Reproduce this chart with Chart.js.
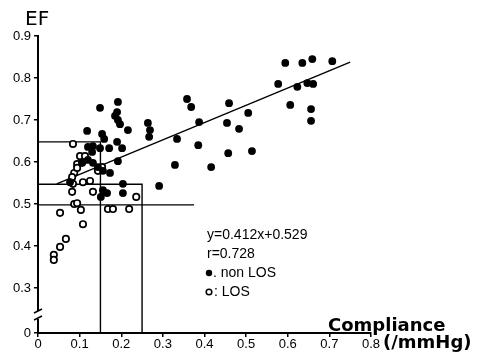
<!DOCTYPE html>
<html>
<head>
<meta charset="utf-8">
<script src="https://cdn.jsdelivr.net/npm/chart.js@4.4.1/dist/chart.umd.min.js"></script>
<style>
  html, body { margin: 0; padding: 0; background: #fff; }
  #wrap { width: 477px; height: 364px; }
</style>
</head>
<body>
<div id="wrap"><canvas id="efChart" width="477" height="364"></canvas></div>
<script>
// values
const nonLosPoints = [
  [0.594,0.836],[0.635,0.836],[0.659,0.845],[0.707,0.840],
  [0.577,0.786],[0.623,0.779],[0.647,0.788],[0.661,0.786],
  [0.606,0.736],[0.656,0.726],[0.656,0.698],
  [0.358,0.750],[0.368,0.731],[0.459,0.740],[0.505,0.717],
  [0.387,0.695],[0.454,0.693],[0.483,0.679],
  [0.334,0.655],[0.385,0.640],[0.457,0.621],[0.514,0.626],
  [0.329,0.593],[0.416,0.588],[0.291,0.543],
  [0.149,0.729],[0.192,0.743],[0.185,0.710],[0.190,0.719],[0.192,0.700],[0.197,0.690],
  [0.216,0.676],[0.264,0.693],[0.269,0.676],[0.267,0.660],
  [0.118,0.674],[0.154,0.667],[0.159,0.655],[0.190,0.648],[0.202,0.633],[0.171,0.633],
  [0.192,0.602],[0.120,0.636],[0.132,0.638],[0.149,0.633],
  [0.132,0.598],[0.144,0.588],[0.156,0.579],[0.173,0.574],
  [0.204,0.548],[0.204,0.526],[0.156,0.533],[0.166,0.526],[0.151,0.517],
  [0.106,0.600],[0.120,0.605],[0.077,0.552],[0.130,0.624]
];
const losPoints = [
  [0.084,0.643],[0.101,0.614],[0.113,0.614],[0.094,0.595],[0.106,0.598],
  [0.087,0.574],[0.082,0.564],[0.084,0.548],[0.108,0.552],[0.125,0.555],
  [0.082,0.529],[0.132,0.529],[0.087,0.500],[0.094,0.502],[0.103,0.486],
  [0.053,0.479],[0.168,0.488],[0.180,0.488],[0.219,0.488],[0.236,0.517],
  [0.108,0.452],[0.067,0.417],[0.053,0.398],[0.038,0.379],[0.038,0.367],
  [0.144,0.579],[0.154,0.588],[0.094,0.586]
];
const fitLine = [[0.045,0.548],[0.75,0.838]];
const boxHigh = [[0,0.648],[0.15,0.648],[0.15,0.193]];
const boxMid = [[0,0.547],[0.25,0.547],[0.25,0.193]];
const lineLow = [[0,0.498],[0.375,0.498]];

const xTicks = [0,0.1,0.2,0.3,0.4,0.5,0.6,0.7,0.8];
const yTicks = [0.3,0.4,0.5,0.6,0.7,0.8,0.9];
const yBreakValue = 0.193; // where "0" sits below the axis break
const noteLines = ['y=0.412x+0.529', 'r=0.728'];

const toXY = arr => arr.map(p => ({ x: p[0], y: p[1] }));

function refLine(arr) {
  return {
    type: 'line', data: toXY(arr), showLine: true, fill: false,
    borderColor: '#000', borderWidth: 1.4, pointRadius: 0, order: 3
  };
}

const extras = {
  id: 'extras',
  afterDraw(chart) {
    const c = chart.ctx;
    const a = chart.chartArea;
    c.save();
    // axis break on y
    c.fillStyle = '#fff';
    c.fillRect(a.left - 3, 311, 6, 8);
    c.strokeStyle = '#000';
    c.lineWidth = 1.5;
    c.beginPath();
    c.moveTo(a.left - 4, 313); c.lineTo(a.left + 4, 309);
    c.moveTo(a.left - 4, 320); c.lineTo(a.left + 4, 316);
    c.stroke();

    c.fillStyle = '#000';
    c.textBaseline = 'alphabetic';
    c.font = '20px "DejaVu Sans"';
    c.fillText('EF', 25, 25);

    c.font = 'bold 18px "DejaVu Sans"';
    c.fillText('Compliance', 328, 331);
    c.fillText('(/mmHg)', 383, 348);

    c.font = '14px "Liberation Sans"';
    c.textBaseline = 'middle';
    c.fillText(noteLines[0], 207, 235);
    c.fillText(noteLines[1], 207, 254);
    c.fillText('. non LOS', 213, 273);
    c.fillText(': LOS', 214, 292);
    c.beginPath();
    c.arc(209, 273, 3.2, 0, Math.PI * 2);
    c.fill();
    c.beginPath();
    c.arc(209, 292, 2.8, 0, Math.PI * 2);
    c.lineWidth = 1.5;
    c.stroke();
    c.restore();
  }
};

const ctx = document.getElementById('efChart').getContext('2d');
new Chart(ctx, {
  type: 'scatter',
  data: {
    datasets: [
      {
        label: 'non LOS', data: toXY(nonLosPoints),
        backgroundColor: '#000', borderWidth: 0, pointRadius: 3.9, order: 1
      },
      {
        label: 'LOS', data: toXY(losPoints),
        backgroundColor: '#fff', borderColor: '#000', borderWidth: 1.7, pointRadius: 3.2, order: 2
      },
      refLine(fitLine),
      refLine(boxHigh),
      refLine(boxMid),
      refLine(lineLow)
    ]
  },
  options: {
    responsive: false,
    animation: false,
    devicePixelRatio: 1,
    layout: { padding: { top: 36, right: 106, left: 0, bottom: 0 } },
    plugins: { legend: { display: false }, tooltip: { enabled: false } },
    scales: {
      x: {
        type: 'linear', min: 0, max: 0.8,
        afterBuildTicks: s => { s.ticks = xTicks.map(v => ({ value: v })); },
        afterFit: s => { s.height = 31; },
        grid: { drawOnChartArea: false, drawTicks: true, tickLength: 4, color: '#000', lineWidth: 1.5 },
        border: { display: true, color: '#000', width: 2 },
        ticks: {
          color: '#000', padding: 0, maxRotation: 0,
          font: { family: 'Liberation Sans', size: 13 },
          callback: v => v === 0 ? '0' : v.toFixed(1)
        }
      },
      y: {
        type: 'linear', min: yBreakValue, max: 0.9,
        afterBuildTicks: s => { s.ticks = [yBreakValue].concat(yTicks).map(v => ({ value: v })); },
        afterFit: s => { s.width = 38; },
        grid: { drawOnChartArea: false, drawTicks: true, tickLength: 4, color: '#000', lineWidth: 1.5 },
        border: { display: true, color: '#000', width: 2 },
        ticks: {
          color: '#000', padding: 3,
          font: { family: 'Liberation Sans', size: 13 },
          callback: v => v < 0.25 ? '0' : v.toFixed(1)
        }
      }
    }
  },
  plugins: [extras]
});
</script>
</body>
</html>
